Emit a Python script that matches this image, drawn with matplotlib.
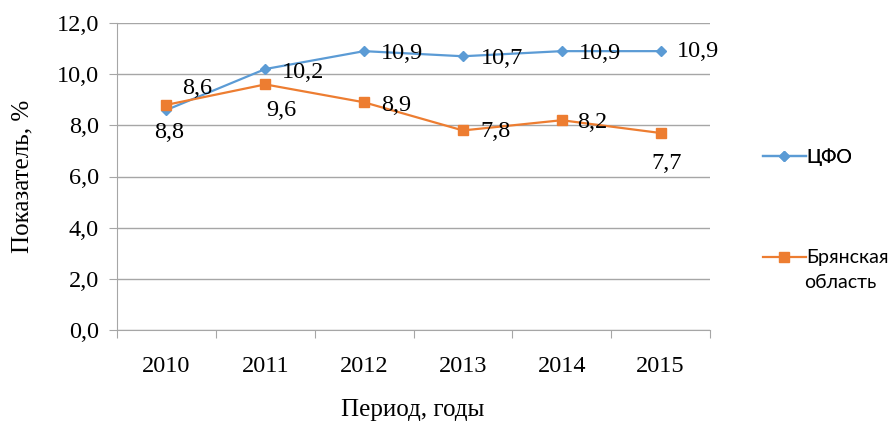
import numpy as np
import matplotlib.pyplot as plt
from matplotlib.lines import Line2D

# data
years = ['2010', '2011', '2012', '2013', '2014', '2015']
cfo = [8.6, 10.2, 10.9, 10.7, 10.9, 10.9]
bryansk = [8.8, 9.6, 8.9, 7.8, 8.2, 7.7]
yticks = [0, 2, 4, 6, 8, 10, 12]
ytick_labels = ['0,0', '2,0', '4,0', '6,0', '8,0', '10,0', '12,0']

blue = '#5B9BD5'
orange = '#ED7D31'
grid_col = '#A6A6A6'
serif = 'Liberation Serif'
fs = 17.5

fig = plt.figure(figsize=(8.92, 4.25), dpi=100)
ax = fig.add_axes([117/892, 1 - 330/425, (710 - 117)/892, (330 - 23)/425])

x = np.arange(len(years))
ax.plot(x, cfo, '-', color=blue, linewidth=1.6, marker='D', markersize=5.5, zorder=3)
ax.plot(x, bryansk, '-', color=orange, linewidth=1.6, marker='s', markersize=7, zorder=3)

# data labels (offsets in pixels)
cfo_off = [(31, 21), (38, -3), (38, -2), (39, -2), (38, -2), (37, 0)]
br_off = [(3, -28), (16, -26), (32, -3), (33, -1), (31, -2), (6, -30)]
for i in range(len(years)):
    ax.annotate(('%.1f' % cfo[i]).replace('.', ','), (x[i], cfo[i]),
                xytext=cfo_off[i], textcoords='offset pixels',
                ha='center', va='center', fontsize=fs, family=serif)
    ax.annotate(('%.1f' % bryansk[i]).replace('.', ','), (x[i], bryansk[i]),
                xytext=br_off[i], textcoords='offset pixels',
                ha='center', va='center', fontsize=fs, family=serif)

ax.set_xlim(-0.5, len(years) - 0.5)
ax.set_ylim(0, 12)
ax.set_yticks(yticks)
ax.set_yticklabels(ytick_labels, fontsize=fs, family=serif)
ax.set_xticks(np.arange(-0.5, len(years), 1.0))
ax.set_xticklabels([])
ax.set_xticks(x, minor=True)
ax.set_xticklabels(years, minor=True, fontsize=fs, family=serif)
ax.tick_params(axis='x', which='major', length=6, color=grid_col, direction='out')
ax.tick_params(axis='x', which='minor', length=0, pad=19)
ax.tick_params(axis='y', length=6, color=grid_col, pad=7)

ax.grid(axis='y', color=grid_col, linewidth=1)
ax.set_axisbelow(True)
for s in ['top', 'right']:
    ax.spines[s].set_visible(False)
ax.spines['left'].set_color(grid_col)
ax.spines['bottom'].set_color(grid_col)

fig.text(22/892, 1 - 176/425, 'Показатель, %', rotation=90, ha='center', va='center',
         fontsize=18, family=serif)
fig.text(413/892, 1 - 410/425, 'Период, годы', ha='center', va='center',
         fontsize=18, family=serif)

# legend
leg_font = 'Lato'
h1 = Line2D([], [], color=blue, linewidth=1.6, marker='D', markersize=5.5)
h2 = Line2D([], [], color=orange, linewidth=1.6, marker='s', markersize=7)
leg1 = fig.legend(handles=[h1], labels=['ЦФО'], loc='center left',
                  bbox_to_anchor=(753/892, 1 - 157/425), frameon=False,
                  prop={'family': leg_font, 'size': 14}, handlelength=2.2,
                  handletextpad=0.05, borderpad=0)
leg2 = fig.legend(handles=[h2], labels=['Брянская'], loc='center left',
                  bbox_to_anchor=(753/892, 1 - 258/425), frameon=False,
                  prop={'family': leg_font, 'size': 14}, handlelength=2.2,
                  handletextpad=0.05, borderpad=0)
fig.add_artist(leg1)
fig.text(804/892, 1 - 282/425, 'область', ha='left', va='center',
         fontsize=14, family=leg_font)

plt.savefig('out.png', dpi=100)
